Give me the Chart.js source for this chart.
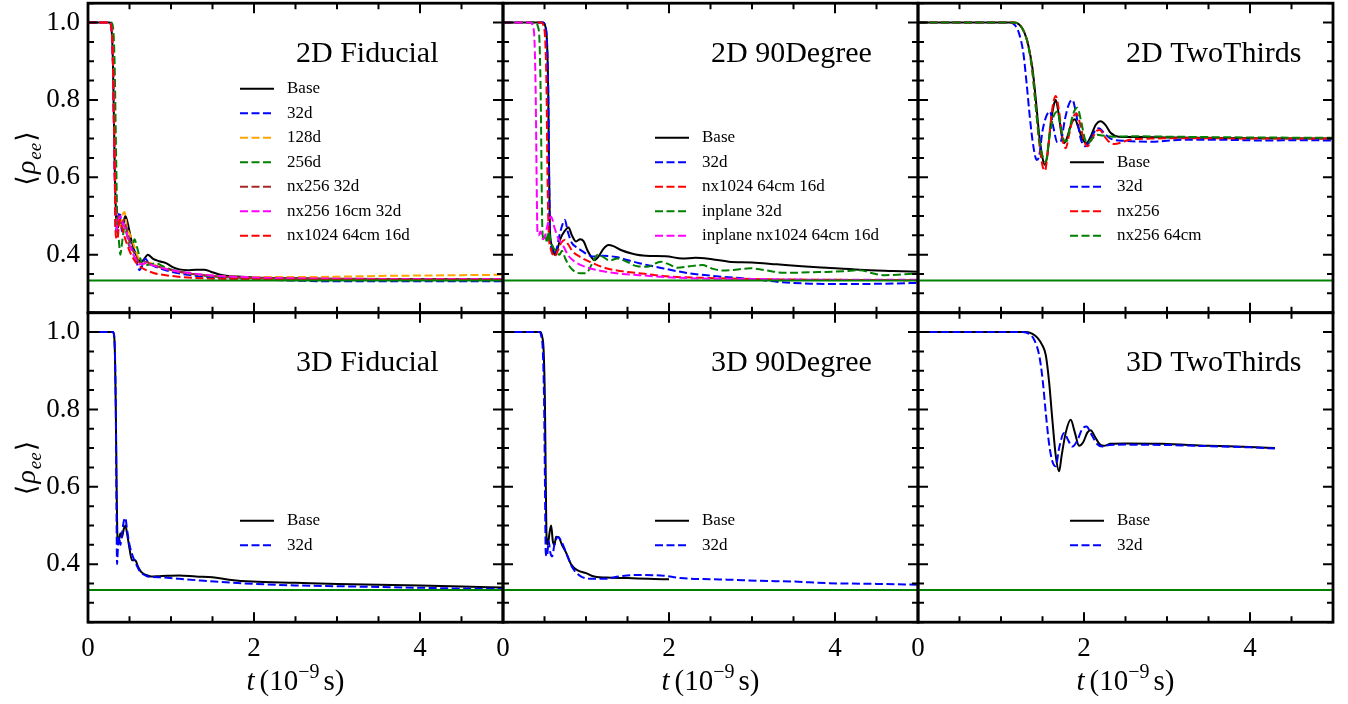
<!DOCTYPE html>
<html>
<head>
<meta charset="utf-8">
<script src="https://cdn.jsdelivr.net/npm/chart.js@4.4.1/dist/chart.umd.min.js"></script>
<style>
  body { margin: 0; background: #fff; }
  #wrap { position: relative; width: 1348px; height: 704px; }
  #wrap canvas { position: absolute; left: 0; top: 0; }
</style>
</head>
<body>
<div id="wrap">
  <canvas id="fid2d" width="1348" height="704"></canvas>
  <canvas id="deg2d" width="1348" height="704"></canvas>
  <canvas id="two2d" width="1348" height="704"></canvas>
  <canvas id="fid3d" width="1348" height="704"></canvas>
  <canvas id="deg3d" width="1348" height="704"></canvas>
  <canvas id="two3d" width="1348" height="704"></canvas>
</div>
<script>
// <rho_ee>(t) curves, [t in 1e-9 s, value]

// 2D Fiducial
const fid2d_base = [[0,1],[0.26,1],[0.28,0.99],[0.30,0.90],[0.32,0.65],[0.34,0.49],[0.36,0.47],[0.39,0.49],[0.42,0.48],[0.45,0.50],[0.48,0.48],[0.52,0.44],[0.56,0.41],[0.60,0.39],[0.64,0.38],[0.68,0.39],[0.72,0.40],[0.78,0.39],[0.86,0.383],[0.94,0.378],[1.02,0.368],[1.10,0.362],[1.2,0.360],[1.3,0.361],[1.4,0.361],[1.48,0.356],[1.58,0.349],[1.75,0.344],[2.0,0.341],[2.5,0.339],[3,0.338],[4,0.337],[5,0.336]];
const fid2d_32d = [[0,1],[0.26,1],[0.28,0.99],[0.30,0.90],[0.32,0.64],[0.335,0.46],[0.355,0.49],[0.38,0.51],[0.41,0.46],[0.44,0.49],[0.48,0.45],[0.53,0.42],[0.57,0.40],[0.60,0.37],[0.62,0.36],[0.65,0.37],[0.69,0.39],[0.73,0.378],[0.80,0.37],[0.9,0.362],[1.0,0.356],[1.2,0.348],[1.5,0.341],[2.0,0.336],[2.5,0.333],[3,0.331],[4,0.331],[5,0.331]];
const fid2d_128d = [[0,1],[0.27,1],[0.29,0.99],[0.31,0.90],[0.33,0.64],[0.35,0.48],[0.38,0.47],[0.41,0.50],[0.44,0.51],[0.47,0.47],[0.51,0.45],[0.56,0.42],[0.61,0.39],[0.66,0.375],[0.72,0.382],[0.8,0.373],[0.9,0.366],[1.0,0.36],[1.2,0.352],[1.5,0.346],[2,0.342],[2.5,0.342],[3,0.343],[3.5,0.345],[4,0.346],[4.5,0.347],[5,0.348]];
const fid2d_256d = [[0,1],[0.28,1],[0.30,0.99],[0.32,0.90],[0.34,0.64],[0.355,0.47],[0.37,0.44],[0.39,0.40],[0.41,0.43],[0.44,0.47],[0.47,0.45],[0.50,0.42],[0.53,0.42],[0.56,0.44],[0.59,0.42],[0.63,0.39],[0.68,0.372],[0.75,0.375],[0.82,0.378],[0.9,0.37],[1.0,0.362],[1.2,0.352],[1.5,0.344],[2,0.339],[3,0.337],[4,0.336],[5,0.336]];
const fid2d_nx256 = [[0,1],[0.26,1],[0.28,0.99],[0.30,0.90],[0.32,0.64],[0.34,0.46],[0.37,0.50],[0.40,0.48],[0.43,0.49],[0.47,0.46],[0.52,0.42],[0.57,0.40],[0.62,0.38],[0.68,0.382],[0.76,0.376],[0.86,0.368],[1.0,0.36],[1.2,0.352],[1.5,0.345],[2,0.34],[3,0.337],[4,0.336],[5,0.335]];
const fid2d_nx256_16cm = [[0,1],[0.26,1],[0.28,0.99],[0.30,0.90],[0.32,0.64],[0.34,0.46],[0.36,0.48],[0.39,0.50],[0.42,0.48],[0.46,0.46],[0.51,0.42],[0.57,0.39],[0.62,0.375],[0.69,0.378],[0.77,0.373],[0.88,0.366],[1.0,0.36],[1.2,0.353],[1.5,0.346],[2,0.341],[3,0.338],[4,0.337],[5,0.337]];
const fid2d_nx1024 = [[0,1],[0.26,1],[0.28,0.99],[0.30,0.90],[0.32,0.64],[0.335,0.45],[0.355,0.44],[0.38,0.49],[0.41,0.47],[0.45,0.44],[0.50,0.41],[0.56,0.385],[0.62,0.37],[0.70,0.36],[0.8,0.352],[0.9,0.348],[1.0,0.345],[1.2,0.341],[1.5,0.338],[2,0.336],[3,0.335],[4,0.335],[5,0.335]];

// 2D 90Degree
const deg2d_base = [[0,1],[0.48,1],[0.51,0.99],[0.53,0.95],[0.545,0.82],[0.555,0.62],[0.565,0.47],[0.58,0.43],[0.60,0.42],[0.62,0.40],[0.65,0.41],[0.69,0.44],[0.74,0.46],[0.79,0.47],[0.83,0.45],[0.88,0.434],[0.93,0.44],[0.97,0.435],[1.02,0.41],[1.06,0.395],[1.10,0.386],[1.15,0.395],[1.21,0.415],[1.27,0.425],[1.33,0.422],[1.42,0.412],[1.55,0.403],[1.72,0.397],[1.96,0.396],[2.16,0.39],[2.32,0.392],[2.52,0.388],[2.72,0.382],[3.0,0.38],[3.3,0.375],[3.6,0.37],[3.9,0.366],[4.3,0.361],[4.7,0.358],[5,0.356]];
const deg2d_32d = [[0,1],[0.48,1],[0.51,0.99],[0.53,0.95],[0.545,0.82],[0.555,0.62],[0.565,0.46],[0.58,0.42],[0.61,0.40],[0.64,0.41],[0.68,0.45],[0.72,0.48],[0.745,0.49],[0.78,0.46],[0.83,0.43],[0.88,0.42],[0.95,0.41],[1.02,0.40],[1.1,0.395],[1.2,0.397],[1.36,0.394],[1.5,0.386],[1.64,0.378],[1.92,0.365],[2.24,0.352],[2.64,0.343],[3.0,0.337],[3.3,0.33],[3.7,0.325],[4.2,0.324],[4.6,0.325],[5,0.327]];
const deg2d_nx1024 = [[0,1],[0.46,1],[0.49,0.99],[0.51,0.95],[0.525,0.82],[0.535,0.62],[0.55,0.46],[0.57,0.42],[0.60,0.40],[0.62,0.395],[0.66,0.41],[0.70,0.43],[0.74,0.438],[0.79,0.425],[0.84,0.408],[0.94,0.393],[1.04,0.382],[1.24,0.365],[1.44,0.357],[1.64,0.352],[2.04,0.343],[2.44,0.34],[3,0.337],[4,0.335],[5,0.334]];
const deg2d_inplane = [[0,1],[0.39,1],[0.42,0.99],[0.44,0.95],[0.455,0.80],[0.465,0.60],[0.475,0.46],[0.49,0.44],[0.51,0.45],[0.53,0.43],[0.55,0.46],[0.57,0.44],[0.60,0.42],[0.64,0.41],[0.68,0.40],[0.71,0.41],[0.75,0.39],[0.80,0.37],[0.86,0.357],[0.93,0.352],[1.0,0.352],[1.07,0.375],[1.14,0.40],[1.20,0.395],[1.28,0.385],[1.38,0.39],[1.48,0.383],[1.62,0.37],[1.74,0.369],[1.9,0.382],[2.0,0.375],[2.1,0.366],[2.25,0.37],[2.4,0.373],[2.52,0.364],[2.64,0.359],[2.8,0.361],[2.98,0.365],[3.15,0.36],[3.4,0.353],[3.8,0.355],[4.1,0.357],[4.3,0.36],[4.45,0.352],[4.6,0.347],[4.8,0.349],[5,0.352]];
const deg2d_inplane1024 = [[0,1],[0.33,1],[0.36,0.99],[0.38,0.95],[0.395,0.80],[0.405,0.60],[0.415,0.46],[0.43,0.45],[0.45,0.46],[0.48,0.44],[0.51,0.45],[0.54,0.48],[0.58,0.498],[0.62,0.47],[0.67,0.44],[0.72,0.425],[0.78,0.40],[0.84,0.386],[0.94,0.373],[1.04,0.365],[1.24,0.356],[1.44,0.35],[1.64,0.347],[2.04,0.341],[2.5,0.338],[3,0.337],[4,0.335],[5,0.335]];

// 2D TwoThirds
const two2d_base = [[0,1],[1.15,1],[1.22,0.995],[1.28,0.975],[1.33,0.94],[1.38,0.88],[1.42,0.80],[1.46,0.71],[1.50,0.65],[1.53,0.632],[1.56,0.66],[1.60,0.74],[1.64,0.79],[1.66,0.80],[1.69,0.77],[1.73,0.71],[1.76,0.688],[1.80,0.705],[1.85,0.74],[1.89,0.75],[1.93,0.73],[1.98,0.70],[2.03,0.688],[2.08,0.705],[2.14,0.735],[2.2,0.745],[2.26,0.735],[2.32,0.715],[2.42,0.705],[2.6,0.704],[3,0.703],[4,0.701],[5,0.70]];
const two2d_32d = [[0,1],[1.08,1],[1.16,0.995],[1.22,0.97],[1.27,0.92],[1.31,0.84],[1.35,0.75],[1.39,0.68],[1.43,0.645],[1.46,0.655],[1.50,0.72],[1.55,0.76],[1.59,0.77],[1.63,0.73],[1.68,0.69],[1.72,0.693],[1.77,0.75],[1.82,0.79],[1.86,0.80],[1.90,0.77],[1.96,0.70],[2.02,0.68],[2.08,0.70],[2.14,0.722],[2.18,0.727],[2.24,0.715],[2.32,0.70],[2.5,0.694],[2.8,0.692],[3.2,0.697],[3.6,0.697],[4.2,0.695],[4.6,0.696],[5,0.695]];
const two2d_nx256 = [[0,1],[1.15,1],[1.22,0.995],[1.28,0.975],[1.33,0.94],[1.38,0.87],[1.42,0.78],[1.46,0.69],[1.50,0.63],[1.53,0.617],[1.57,0.68],[1.62,0.78],[1.66,0.81],[1.70,0.77],[1.74,0.70],[1.78,0.675],[1.82,0.71],[1.87,0.755],[1.91,0.765],[1.95,0.74],[2.0,0.695],[2.04,0.68],[2.1,0.70],[2.15,0.72],[2.19,0.722],[2.25,0.705],[2.31,0.69],[2.37,0.686],[2.45,0.69],[2.55,0.697],[2.8,0.70],[3.5,0.701],[4.2,0.70],[5,0.70]];
const two2d_nx256_64cm = [[0,1],[1.15,1],[1.22,0.995],[1.28,0.975],[1.33,0.94],[1.38,0.87],[1.42,0.78],[1.46,0.70],[1.50,0.655],[1.54,0.641],[1.58,0.70],[1.63,0.755],[1.68,0.77],[1.72,0.73],[1.76,0.695],[1.79,0.693],[1.83,0.73],[1.88,0.77],[1.92,0.78],[1.96,0.75],[2.01,0.70],[2.05,0.688],[2.1,0.70],[2.16,0.71],[2.22,0.708],[2.35,0.705],[2.6,0.706],[3.0,0.705],[4.0,0.703],[5,0.702]];

// 3D Fiducial
const fid3d_base = [[0,1],[0.30,1],[0.315,0.99],[0.325,0.94],[0.335,0.80],[0.345,0.60],[0.355,0.47],[0.37,0.46],[0.39,0.48],[0.41,0.47],[0.43,0.49],[0.45,0.50],[0.47,0.48],[0.50,0.44],[0.53,0.41],[0.57,0.41],[0.60,0.395],[0.64,0.38],[0.70,0.372],[0.76,0.368],[0.86,0.369],[0.96,0.37],[1.1,0.371],[1.3,0.368],[1.5,0.366],[1.7,0.36],[1.98,0.355],[2.5,0.352],[3,0.349],[3.5,0.347],[4,0.345],[4.5,0.342],[5,0.340]];
const fid3d_32d = [[0,1],[0.30,1],[0.315,0.99],[0.325,0.94],[0.335,0.80],[0.343,0.55],[0.35,0.40],[0.36,0.44],[0.375,0.47],[0.39,0.45],[0.41,0.48],[0.43,0.51],[0.45,0.52],[0.47,0.49],[0.50,0.45],[0.54,0.42],[0.58,0.40],[0.63,0.38],[0.70,0.37],[0.76,0.367],[0.9,0.366],[1.1,0.362],[1.34,0.358],[1.6,0.354],[2.0,0.349],[2.5,0.345],[3,0.343],[3.5,0.341],[4,0.339],[4.5,0.337],[5,0.336]];

// 3D 90Degree
const deg3d_base = [[0,1],[0.45,1],[0.47,0.99],[0.49,0.95],[0.505,0.82],[0.515,0.62],[0.525,0.47],[0.54,0.45],[0.56,0.48],[0.58,0.50],[0.60,0.46],[0.62,0.45],[0.64,0.471],[0.67,0.47],[0.71,0.45],[0.76,0.43],[0.82,0.40],[0.9,0.384],[1.0,0.377],[1.1,0.368],[1.3,0.365],[1.5,0.364],[1.75,0.362],[2.0,0.361]];
const deg3d_32d = [[0,1],[0.44,1],[0.46,0.99],[0.48,0.95],[0.495,0.82],[0.505,0.62],[0.515,0.43],[0.53,0.42],[0.55,0.46],[0.57,0.43],[0.59,0.42],[0.62,0.45],[0.66,0.47],[0.70,0.46],[0.76,0.43],[0.84,0.39],[0.96,0.366],[1.1,0.362],[1.22,0.362],[1.4,0.368],[1.58,0.372],[1.9,0.371],[2.14,0.364],[2.5,0.361],[2.7,0.36],[3.1,0.357],[3.5,0.355],[3.9,0.351],[4.5,0.349],[5,0.347]];

// 3D TwoThirds
const two3d_base = [[0,1],[1.30,1],[1.38,0.995],[1.44,0.985],[1.50,0.965],[1.54,0.94],[1.58,0.87],[1.62,0.77],[1.66,0.68],[1.70,0.64],[1.73,0.68],[1.78,0.74],[1.84,0.773],[1.89,0.74],[1.94,0.706],[1.99,0.715],[2.04,0.74],[2.08,0.746],[2.13,0.73],[2.19,0.71],[2.24,0.706],[2.32,0.711],[2.5,0.712],[2.94,0.711],[3.5,0.706],[4,0.703],[4.3,0.70]];
const two3d_32d = [[0,1],[1.26,1],[1.34,0.995],[1.40,0.98],[1.46,0.94],[1.50,0.88],[1.54,0.79],[1.58,0.71],[1.62,0.665],[1.66,0.653],[1.70,0.70],[1.76,0.739],[1.81,0.72],[1.86,0.704],[1.92,0.72],[1.98,0.75],[2.03,0.756],[2.09,0.735],[2.16,0.71],[2.22,0.704],[2.3,0.708],[2.5,0.709],[3,0.708],[3.5,0.705],[4,0.702],[4.3,0.699]];

// equilibrium value 1/3
const refLine = [[0, 1 / 3], [5, 1 / 3]];

const tLimits = [0, 5];
const rhoLimits = [0.25, 1.05];

// panel grid (pixels)
const colLeft = [88, 503, 918];
const rowTop = [3.2, 312.7];
const panelW = 415;
const panelH = 309.5;
const yAxisW = 60;   // room for the y tick labels (left column only)
const xAxisH = 45;   // room for the t tick labels (bottom row only)

const serif = '"Liberation Serif", "DejaVu Serif", serif';
const xMajor = v => Math.abs(v / 2 - Math.round(v / 2)) < 1e-6;
const yMajor = v => Math.abs(v * 5 - Math.round(v * 5)) < 1e-6;

// frame, inward ticks, panel title, legend and axis titles
const panelDecor = {
  id: 'panelDecor',
  afterDraw(chart, args, opts) {
    const ctx = chart.ctx;
    const ca = chart.chartArea;
    const xs = chart.scales.x, ys = chart.scales.y;
    ctx.save();
    ctx.strokeStyle = '#000';
    ctx.lineWidth = 2;
    ctx.setLineDash([]);
    ctx.beginPath();
    xs.ticks.forEach(tk => {
      const px = xs.getPixelForValue(tk.value);
      const len = xMajor(tk.value) ? 10 : 6;
      ctx.moveTo(px, ca.bottom); ctx.lineTo(px, ca.bottom - len);
      ctx.moveTo(px, ca.top); ctx.lineTo(px, ca.top + len);
    });
    ys.ticks.forEach(tk => {
      const py = ys.getPixelForValue(tk.value);
      const len = yMajor(tk.value) ? 10 : 6;
      ctx.moveTo(ca.left, py); ctx.lineTo(ca.left + len, py);
      ctx.moveTo(ca.right, py); ctx.lineTo(ca.right - len, py);
    });
    ctx.stroke();
    ctx.lineWidth = 2.8;
    ctx.strokeRect(ca.left, ca.top, ca.right - ca.left, ca.bottom - ca.top);

    // title
    ctx.fillStyle = '#000';
    ctx.font = '30px ' + serif;
    ctx.textAlign = 'left';
    ctx.textBaseline = 'alphabetic';
    ctx.fillText(opts.title, ca.left + 208, ca.top + 58.5);

    // legend, anchored by its last row
    const items = chart.data.datasets.filter(d => !d.isRef);
    ctx.font = '17px ' + serif;
    ctx.textBaseline = 'middle';
    items.forEach((d, i) => {
      const y = ca.top + 232.5 - (items.length - 1 - i) * 24.5;
      ctx.strokeStyle = d.borderColor;
      ctx.lineWidth = 2;
      ctx.setLineDash(d.borderDash);
      ctx.beginPath();
      ctx.moveTo(ca.left + 152, y);
      ctx.lineTo(ca.left + 186, y);
      ctx.stroke();
      ctx.setLineDash([]);
      ctx.fillText(d.label, ca.left + 199, y);
    });

    // <rho_ee> on the left column
    if (opts.col === 0) {
      const parts = [
        { t: '\u27E8', f: '27px "DejaVu Serif", serif', dy: 0 },
        { t: '\u03C1', f: 'italic 28px ' + serif, dy: 0 },
        { t: 'ee', f: 'italic 19px ' + serif, dy: 6 },
        { t: '\u27E9', f: '27px "DejaVu Serif", serif', dy: 0 }
      ];
      let w = 0;
      parts.forEach(p => { ctx.font = p.f; p.w = ctx.measureText(p.t).width; w += p.w + 1; });
      ctx.translate(27, (ca.top + ca.bottom) / 2);
      ctx.rotate(-Math.PI / 2);
      ctx.textBaseline = 'alphabetic';
      let x = -w / 2;
      parts.forEach(p => { ctx.font = p.f; ctx.fillText(p.t, x, 8 + p.dy); x += p.w + 1; });
      ctx.setTransform(1, 0, 0, 1, 0, 0);
    }

    // t (10^-9 s) under the bottom row
    if (opts.row === 1) {
      const parts = [
        { t: 't', f: 'italic 29px ' + serif, dy: 0, gap: 5 },
        { t: '(10', f: '29px ' + serif, dy: 0, gap: 0 },
        { t: '\u22129', f: '20px ' + serif, dy: -12, gap: 4 },
        { t: 's)', f: '29px ' + serif, dy: 0, gap: 0 }
      ];
      let w = 0;
      parts.forEach(p => { ctx.font = p.f; p.w = ctx.measureText(p.t).width; w += p.w + p.gap; });
      let x = (ca.left + ca.right) / 2 - w / 2;
      ctx.textBaseline = 'alphabetic';
      parts.forEach(p => { ctx.font = p.f; ctx.fillText(p.t, x, 690 + p.dy); x += p.w + p.gap; });
    }
    ctx.restore();
  }
};

function makePanel(id, col, row, title, series) {
  const yW = col === 0 ? yAxisW : 0;
  const xH = row === 1 ? xAxisH : 0;
  const fitScale = scale => {
    if (scale.isHorizontal()) scale.height = xH; else scale.width = yW;
    scale.paddingLeft = scale.paddingRight = scale.paddingTop = scale.paddingBottom = 0;
  };
  const datasets = series.map((s, i) => ({
    label: s.label,
    data: s.data,
    borderColor: s.color,
    borderWidth: 2,
    borderDash: s.dash ? [8, 3.5] : [],
    pointRadius: 0,
    fill: false,
    cubicInterpolationMode: 'monotone',
    order: series.length - i + 1
  }));
  datasets.push({ data: refLine, borderColor: '#008000', borderWidth: 2, borderDash: [], pointRadius: 0, order: 0, isRef: true });

  new Chart(document.getElementById(id), {
    type: 'line',
    data: { datasets },
    options: {
      responsive: false,
      animation: false,
      events: [],
      layout: {
        padding: {
          left: colLeft[col] - yW,
          top: rowTop[row],
          right: 1348 - colLeft[col] - panelW,
          bottom: 704 - rowTop[row] - panelH - xH
        }
      },
      plugins: {
        legend: { display: false },
        tooltip: { enabled: false },
        panelDecor: { title, col, row }
      },
      scales: {
        x: {
          type: 'linear', min: tLimits[0], max: tLimits[1],
          grid: { display: false }, border: { display: false },
          afterFit: fitScale,
          ticks: {
            stepSize: 0.5, autoSkip: false, maxRotation: 0, padding: 3, color: '#000',
            font: { family: serif, size: 27 },
            callback: v => (row === 1 && xMajor(v)) ? String(Math.round(v)) : ''
          }
        },
        y: {
          type: 'linear', min: rhoLimits[0], max: rhoLimits[1],
          grid: { display: false }, border: { display: false },
          afterFit: fitScale,
          ticks: {
            stepSize: 0.05, autoSkip: false, padding: 0, color: '#000',
            font: { family: serif, size: 27 },
            callback: v => (col === 0 && yMajor(v)) ? v.toFixed(1) : ''
          }
        }
      }
    },
    plugins: [panelDecor]
  });
}

const K = '#000000', B = '#0000ff', O = '#ffa500', G = '#008000', BR = '#a52a2a', M = '#ff00ff', R = '#ff0000';

makePanel('fid2d', 0, 0, '2D Fiducial', [
  { label: 'Base', data: fid2d_base, color: K },
  { label: '32d', data: fid2d_32d, color: B, dash: true },
  { label: '128d', data: fid2d_128d, color: O, dash: true },
  { label: '256d', data: fid2d_256d, color: G, dash: true },
  { label: 'nx256 32d', data: fid2d_nx256, color: BR, dash: true },
  { label: 'nx256 16cm 32d', data: fid2d_nx256_16cm, color: M, dash: true },
  { label: 'nx1024 64cm 16d', data: fid2d_nx1024, color: R, dash: true }
]);
makePanel('deg2d', 1, 0, '2D 90Degree', [
  { label: 'Base', data: deg2d_base, color: K },
  { label: '32d', data: deg2d_32d, color: B, dash: true },
  { label: 'nx1024 64cm 16d', data: deg2d_nx1024, color: R, dash: true },
  { label: 'inplane 32d', data: deg2d_inplane, color: G, dash: true },
  { label: 'inplane nx1024 64cm 16d', data: deg2d_inplane1024, color: M, dash: true }
]);
makePanel('two2d', 2, 0, '2D TwoThirds', [
  { label: 'Base', data: two2d_base, color: K },
  { label: '32d', data: two2d_32d, color: B, dash: true },
  { label: 'nx256', data: two2d_nx256, color: R, dash: true },
  { label: 'nx256 64cm', data: two2d_nx256_64cm, color: G, dash: true }
]);
makePanel('fid3d', 0, 1, '3D Fiducial', [
  { label: 'Base', data: fid3d_base, color: K },
  { label: '32d', data: fid3d_32d, color: B, dash: true }
]);
makePanel('deg3d', 1, 1, '3D 90Degree', [
  { label: 'Base', data: deg3d_base, color: K },
  { label: '32d', data: deg3d_32d, color: B, dash: true }
]);
makePanel('two3d', 2, 1, '3D TwoThirds', [
  { label: 'Base', data: two3d_base, color: K },
  { label: '32d', data: two3d_32d, color: B, dash: true }
]);
</script>
</body>
</html>
